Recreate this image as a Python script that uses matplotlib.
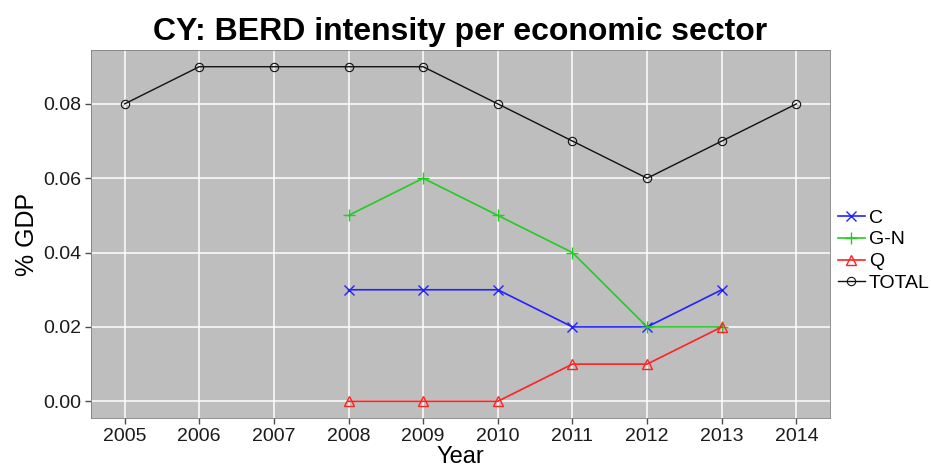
import matplotlib
matplotlib.use("Agg")
import matplotlib.pyplot as plt
import numpy as np

plt.rcParams['font.family'] = ['Liberation Sans', 'DejaVu Sans']

years = [2005, 2006, 2007, 2008, 2009, 2010, 2011, 2012, 2013, 2014]
total = [0.08, 0.09, 0.09, 0.09, 0.09, 0.08, 0.07, 0.06, 0.07, 0.08]
sec_years = [2008, 2009, 2010, 2011, 2012, 2013]
c_vals = [0.03, 0.03, 0.03, 0.02, 0.02, 0.03]
gn_vals = [0.05, 0.06, 0.05, 0.04, 0.02, 0.02]
q_vals = [0.0, 0.0, 0.0, 0.01, 0.01, 0.02]

fig = plt.figure(figsize=(9.31, 4.68), dpi=100)
ax = fig.add_axes([91 / 931, 1 - 418 / 468, 739 / 931, 368 / 468])
ax.set_facecolor('#bebebe')

ax.plot(sec_years, c_vals, color='#2222ff', marker='x', ms=6.5, mew=1, lw=1.2, label='C')
ax.plot(sec_years, gn_vals, color='#22cc22', marker='+', ms=8.5, mew=1, lw=1.2, label='G-N')
ax.plot(sec_years, q_vals, color='#ff2222', marker='^', ms=7.5, mfc='none', mew=1, lw=1.2, label='Q')
ax.plot(years, total, color='#111111', marker='o', ms=6, mfc='none', mew=0.8, lw=1.0, label='TOTAL')

ax.set_xlim(2004.55, 2014.45)
ax.set_ylim(-0.0045, 0.0945)
ax.set_xticks(years)
ax.set_yticks([0.0, 0.02, 0.04, 0.06, 0.08])
ax.set_yticklabels(['0.00', '0.02', '0.04', '0.06', '0.08'])
ax.grid(True, color='white', lw=1.1)
ax.set_axisbelow(True)
for s in ax.spines.values():
    s.set_color('#7f7f7f')
    s.set_linewidth(0.6)
ax.tick_params(axis='both', labelsize=14, color='#4d4d4d', length=4, width=1,
               labelcolor='#1a1a1a', pad=3)

ax.set_title('CY: BERD intensity per economic sector', fontsize=23, fontweight='bold', pad=7)
ax.set_xlabel('Year', fontsize=17, labelpad=1)
ax.set_ylabel('% GDP', fontsize=18, labelpad=3)

leg = ax.legend(loc='center left', bbox_to_anchor=(1.0, 0.455), frameon=False,
                fontsize=14, handlelength=1.4, handletextpad=0.2, labelspacing=0.22,
                borderaxespad=0.2, borderpad=0.2)

fig.savefig('out.png', dpi=100)
